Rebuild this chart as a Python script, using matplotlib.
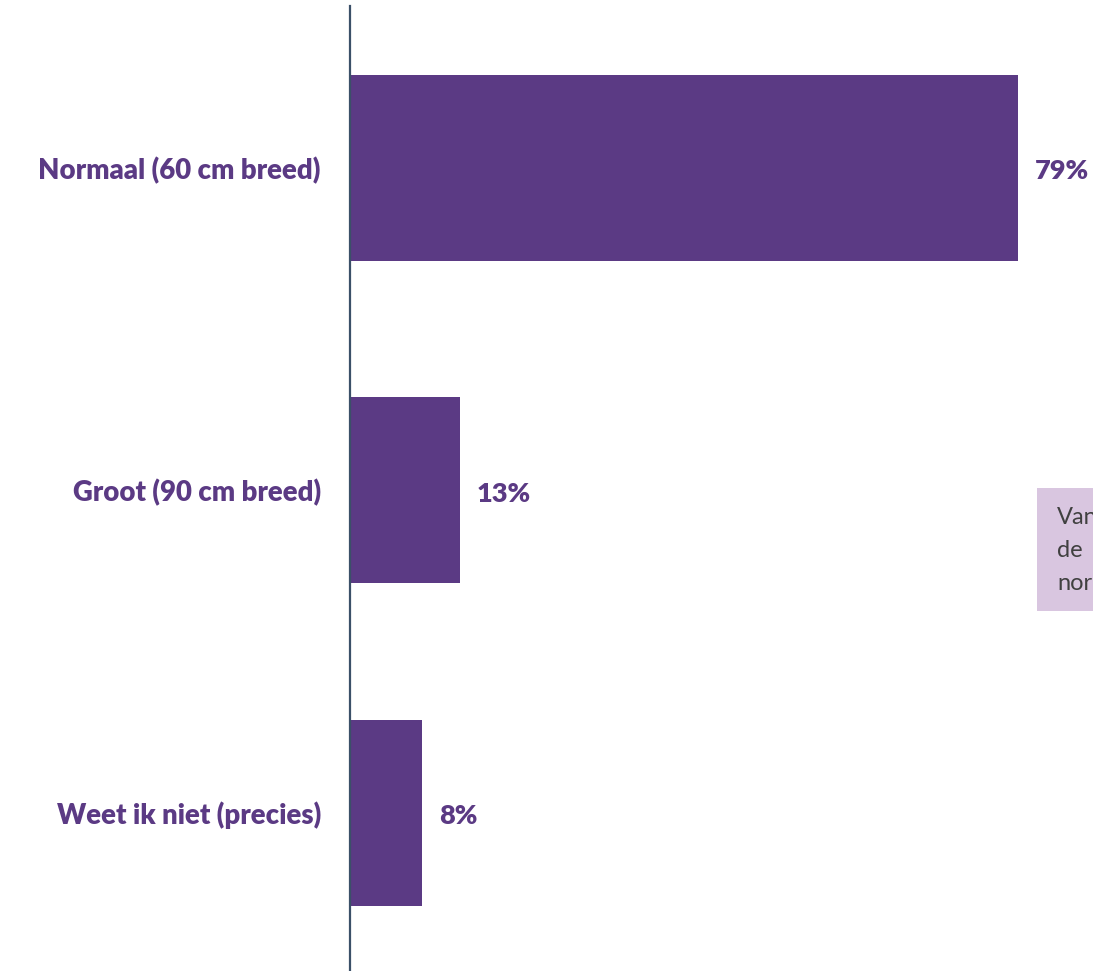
import matplotlib.pyplot as plt
from matplotlib.patches import Rectangle

categories = ["Normaal (60 cm breed)", "Groot (90 cm breed)", "Weet ik niet (precies)"]
values = [79, 13, 8.5]
value_labels = ["79%", "13%", "8%"]
note_lines = ["Van", "de", "nor"]

purple = "#5B3A84"
plt.rcParams['font.family'] = ['Lato', 'DejaVu Sans']

fig = plt.figure(figsize=(10.93, 9.71), dpi=100)
ax = fig.add_axes([350 / 1093, 0, 743 / 1093, 965 / 971])

ypos = list(range(len(categories)))
ax.barh(ypos, values, height=0.577, color=purple)
ax.set_xlim(0, 743 / 8.456)
ax.set_ylim(2.49, -0.502)

for y, v, lab in zip(ypos, values, value_labels):
    ax.text(v + 2.0, y + 0.01, lab, va="center", ha="left", fontsize=19.5,
            fontweight="heavy", color=purple)

ax.set_yticks(ypos)
ax.set_yticklabels(categories, fontsize=19.8, fontweight="heavy", color=purple)
ax.tick_params(axis="y", length=0, pad=21)
ax.set_xticks([])
for side in ["top", "right", "bottom"]:
    ax.spines[side].set_visible(False)
ax.spines["left"].set_color("#3B5068")
ax.spines["left"].set_linewidth(1.6)

# note box, cut off by the right edge like in the source
fig.patches.append(Rectangle((1037 / 1093, 1 - 611 / 971), 0.2, 123 / 971,
                             transform=fig.transFigure, facecolor="#D9C6E0",
                             edgecolor="none"))
for i, line in enumerate(note_lines):
    fig.text(1057 / 1093, 1 - (518 + 32.5 * i) / 971, line, fontsize=17,
             color="#404040", va="center", ha="left")

fig.savefig("out.png", dpi=100)
